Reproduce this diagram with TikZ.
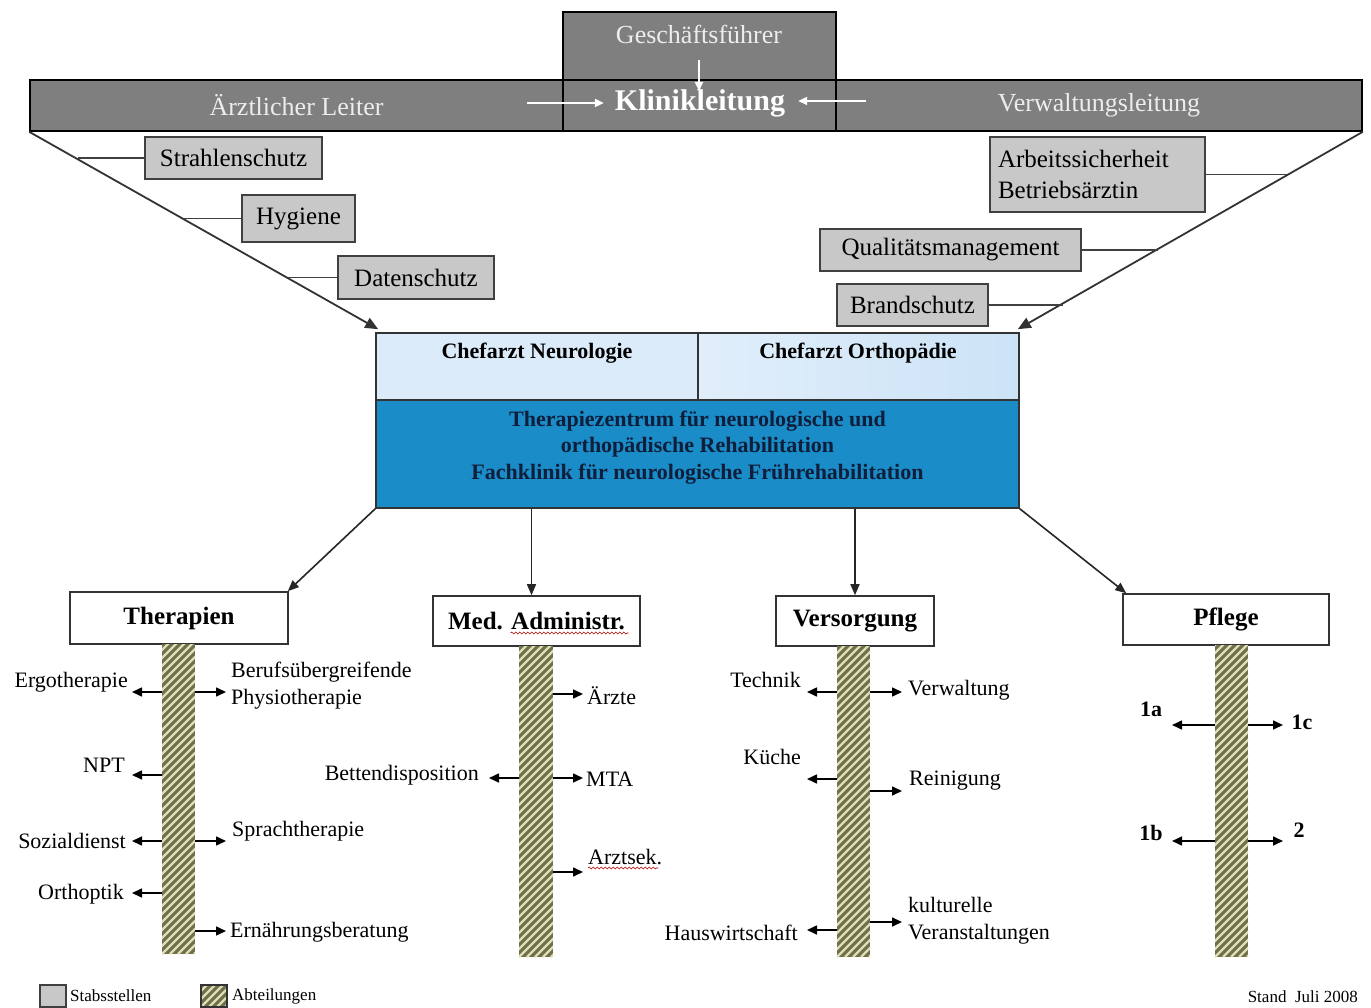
\documentclass[tikz,border=0pt]{standalone}
\usepackage{fontspec}
\setmainfont{Liberation Serif}
\usetikzlibrary{arrows.meta,decorations.pathmorphing}
\definecolor{barg}{HTML}{7F7F7F}
\definecolor{bartxt}{HTML}{EDEDED}
\definecolor{staffg}{HTML}{C8C8C8}
\definecolor{cfl}{HTML}{DCEBF9}
\definecolor{cfr}{HTML}{CCE3F7}
\definecolor{bigblue}{HTML}{1A8CC8}
\definecolor{navy}{HTML}{0F1E3A}
\definecolor{olive}{HTML}{6F6F4C}
\definecolor{stripec}{HTML}{DEDEB4}
\newcommand\fsz[2]{\fontsize{#1}{#2}\selectfont}
\begin{document}
\begin{tikzpicture}[x=1pt,y=-1pt,
  darkbox/.style={draw=black, line width=1.6pt, fill=barg, text=bartxt, inner sep=0pt, font=\fsz{26}{30}},
  staff/.style={draw=black!75, line width=1.6pt, fill=staffg, inner sep=0pt, font=\fsz{25}{31}, align=left},
  link/.style={draw=black!75, line width=1.8pt},
  diag/.style={draw=black!80, line width=1.8pt, -{Triangle[length=13pt,width=11pt]}},
  down/.style={draw=black!85, line width=1.6pt, -{Triangle[length=11pt,width=9pt]}},
  warr/.style={draw=white, line width=2.2pt, -{Triangle[length=9pt,width=8pt]}},
  dept/.style={draw=black!80, line width=1.6pt, fill=white, inner sep=0pt, font=\bfseries\fsz{25}{30}},
  stripebar/.style={inner sep=0pt, fill=olive, path picture={
     \foreach \k in {-45,...,6}{
       \draw[stripec, line width=2.2pt] ([xshift=\k*8pt]path picture bounding box.south west) -- ++(420pt,420pt);
     }}},
  arr/.style={line width=1.6pt, -{Triangle[length=10pt,width=9pt]}},
  lbl/.style={inner sep=0pt, font=\fsz{22}{27}, align=left},
  numlbl/.style={inner sep=0pt, font=\bfseries\fsz{22}{26}},
  cftxt/.style={inner sep=0pt, font=\bfseries\fsz{22}{26}},
  wav/.style={draw=red!70!black, line width=0.6pt, decorate, decoration={snake, amplitude=1pt, segment length=4pt}},
]
\useasboundingbox[fill=white] (0,0) rectangle (1371,1008);

% ---------- top management ----------
\node[darkbox, minimum width=273pt, minimum height=68pt] (gf) at (699.5,46) {};
\node[darkbox, minimum width=533pt, minimum height=51pt] (al) at (296.5,105.5) {Ärztlicher Leiter};
\node[darkbox, minimum width=273pt, minimum height=51pt] (kl) at (699.5,105.5) {};
\node[darkbox, minimum width=526pt, minimum height=51pt] (vl) at (1099,105.5) {Verwaltungsleitung};
\node[inner sep=0pt, text=bartxt, font=\fsz{26}{30}] (gft) at (699,34) {Geschäftsführer};
\node[inner sep=0pt, text=white, font=\bfseries\fsz{30}{34}] (klt) at (700,103) {Klinikleitung};
\coordinate (gfs) at (699,60);
\coordinate (gfa) at (699,91);
\coordinate (wl) at (527,103);
\coordinate (wr) at (866,101);
\draw[warr] (gfs) -- (gfa);
\draw[warr] (wl) -- ([xshift=-11pt]klt.west);
\draw[warr] (wr) -- ([xshift=13pt,yshift=2pt]klt.east);

% ---------- Chefarzt / Zentrum ----------
\node[draw=black!80, line width=1.6pt, fill=cfl, minimum width=322pt, minimum height=67pt, inner sep=0pt] (cfL) at (537,366.5) {};
\node[draw=black!80, line width=1.6pt, right color=cfr, left color=cfr!60!white, minimum width=321pt, minimum height=67pt, inner sep=0pt] (cfR) at (858.5,366.5) {};
\node[cftxt] (cfLt) at (537,353) {Chefarzt Neurologie};
\node[cftxt] (cfRt) at (858,353) {Chefarzt Orthopädie};
\node[draw=black!80, line width=1.6pt, fill=bigblue, minimum width=643pt, minimum height=108pt, inner sep=0pt] (big) at (697.5,454) {};
\node[inner sep=0pt, text=navy, align=center, font=\bfseries\fsz{22}{26.5}] (bigt) at (697.5,447.5)
  {Therapiezentrum für neurologische und\\orthopädische Rehabilitation\\Fachklinik für neurologische Frührehabilitation};

% ---------- Stabsstellen ----------
\draw[diag] (al.south west) -- ([xshift=3pt,yshift=3pt]cfL.north west);
\draw[diag] (vl.south east) -- ([xshift=-2pt,yshift=3pt]cfR.north east);

\node[staff, minimum width=177pt, minimum height=42pt] (s1) at (233.5,158) {Strahlenschutz};
\node[staff, minimum width=113pt, minimum height=47pt] (s2) at (298.5,218.5) {Hygiene};
\node[staff, minimum width=156pt, minimum height=43pt] (s3) at (416,277.5) {Datenschutz};
\node[staff, minimum width=215pt, minimum height=75pt, text width=199pt] (s4) at (1097.5,174.5) {Arbeitssicherheit\\Betriebsärztin};
\node[staff, minimum width=261pt, minimum height=42pt] (s5) at (950.5,250) {Qualitätsmanagement};
\node[staff, minimum width=151pt, minimum height=42pt] (s6) at (912.5,305) {Brandschutz};
\coordinate (d1) at (77.5,158);
\coordinate (d2) at (183.9,218.5);
\coordinate (d3) at (287.7,277.5);
\coordinate (d4) at (1287.2,174.5);
\coordinate (d5) at (1157.5,250);
\coordinate (d6) at (1063,305);
\draw[link] (s1.west) -- (d1);
\draw[link] (s2.west) -- (d2);
\draw[link] (s3.west) -- (d3);
\draw[link] (s4.east) -- (d4);
\draw[link] (s5.east) -- (d5);
\draw[link] (s6.east) -- (d6);

% ---------- Abteilungen ----------
\node[dept, minimum width=218pt, minimum height=52pt] (ther) at (179,618) {Therapien};
\node[dept, minimum width=207pt, minimum height=50pt] (med) at (536.5,621) {Med. Administr.};
\node[dept, minimum width=158pt, minimum height=50pt] (vers) at (855,621) {Versorgung};
\node[dept, minimum width=206pt, minimum height=51pt] (pfl) at (1226,619.5) {Pflege};
\draw[down] (big.south west) -- ([xshift=-1pt]ther.north east);
\draw[down] ([xshift=-5pt]med.north |- big.south) -- ([xshift=-5pt]med.north);
\draw[down] (vers.north |- big.south) -- (vers.north);
\draw[down] (big.south east) -- ([xshift=4pt]pfl.north west);
\draw[wav] ([xshift=-26pt,yshift=-12pt]med.center) -- ([xshift=92pt,yshift=-12pt]med.center);

\node[stripebar, minimum width=33pt, minimum height=310pt] (bT) at (178.5,799) {};
\node[stripebar, minimum width=34pt, minimum height=311pt] (bM) at (536,801.5) {};
\node[stripebar, minimum width=33pt, minimum height=311pt] (bV) at (853.5,801.5) {};
\node[stripebar, minimum width=33pt, minimum height=312pt] (bP) at (1231.5,801) {};

% Therapien
\coordinate (t1) at (132,692); \coordinate (t2) at (226,692);
\coordinate (t3) at (132,775); \coordinate (t4) at (132,841);
\coordinate (t5) at (226,841); \coordinate (t6) at (132,893);
\coordinate (t7) at (226,931);
\foreach \c in {t1,t3,t4,t6} \draw[arr] (bT.west |- \c) -- (\c);
\foreach \c in {t2,t5,t7} \draw[arr] (bT.east |- \c) -- (\c);
\node[lbl, anchor=east] (l1) at (128,682) {Ergotherapie};
\node[lbl, anchor=west] (l2) at (231,686) {Berufsübergreifende\\Physiotherapie};
\node[lbl, anchor=east] (l3) at (125,765) {NPT};
\node[lbl, anchor=east] (l4) at (126,841) {Sozialdienst};
\node[lbl, anchor=west] (l5) at (232,831) {Sprachtherapie};
\node[lbl, anchor=east] (l6) at (124,894) {Orthoptik};
\node[lbl, anchor=west] (l7) at (230,932) {Ernährungsberatung};

% Med. Administr.
\coordinate (m1) at (583,694); \coordinate (m2) at (489,778);
\coordinate (m3) at (583,778); \coordinate (m4) at (583,872);
\draw[arr] (bM.west |- m2) -- (m2);
\foreach \c in {m1,m3,m4} \draw[arr] (bM.east |- \c) -- (\c);
\node[lbl, anchor=west] (ml1) at (587,696) {Ärzte};
\node[lbl, anchor=east] (ml2) at (479,775) {Bettendisposition};
\node[lbl, anchor=west] (ml3) at (586,779) {MTA};
\node[lbl, anchor=west] (ml4) at (588,857) {Arztsek.};
\draw[wav] ([yshift=-3pt]ml4.south west) -- ([yshift=-3pt,xshift=-4pt]ml4.south east);

% Versorgung
\coordinate (v1) at (807,692); \coordinate (v2) at (902,692);
\coordinate (v3) at (807,779); \coordinate (v4) at (902,791);
\coordinate (v5) at (807,930); \coordinate (v6) at (902,922);
\foreach \c in {v1,v3,v5} \draw[arr] (bV.west |- \c) -- (\c);
\foreach \c in {v2,v4,v6} \draw[arr] (bV.east |- \c) -- (\c);
\node[lbl, anchor=east] (vl1) at (801,680) {Technik};
\node[lbl, anchor=west] (vl2) at (908,690) {Verwaltung};
\node[lbl, anchor=east] (vl3) at (801,757) {Küche};
\node[lbl, anchor=west] (vl4) at (909,781) {Reinigung};
\node[lbl, anchor=east] (vl5) at (798,933) {Hauswirtschaft};
\node[lbl, anchor=west] (vl6) at (908,921) {kulturelle\\Veranstaltungen};

% Pflege
\coordinate (p1) at (1172,725); \coordinate (p2) at (1283,725);
\coordinate (p3) at (1172,841); \coordinate (p4) at (1283,841);
\foreach \c in {p1,p3} \draw[arr] (bP.west |- \c) -- (\c);
\foreach \c in {p2,p4} \draw[arr] (bP.east |- \c) -- (\c);
\node[numlbl] (pl1) at (1151,709) {1a};
\node[numlbl] (pl2) at (1302,722) {1c};
\node[numlbl] (pl3) at (1151,833) {1b};
\node[numlbl] (pl4) at (1299,830) {2};

% ---------- legend ----------
\node[staff, minimum width=26pt, minimum height=22pt] (lg1) at (53,996) {};
\node[inner sep=0pt, anchor=west, font=\fsz{17}{20}] (lg1t) at (70,996) {Stabsstellen};
\node[stripebar, draw=black!80, line width=1.2pt, minimum width=26pt, minimum height=22pt] (lg2) at (214,996) {};
\node[inner sep=0pt, anchor=west, font=\fsz{17}{20}] (lg2t) at (232,996) {Abteilungen};
\node[inner sep=0pt, anchor=east, font=\fsz{17}{20}] (stand) at (1358,997) {Stand\ \ Juli 2008};
\end{tikzpicture}
\end{document}
